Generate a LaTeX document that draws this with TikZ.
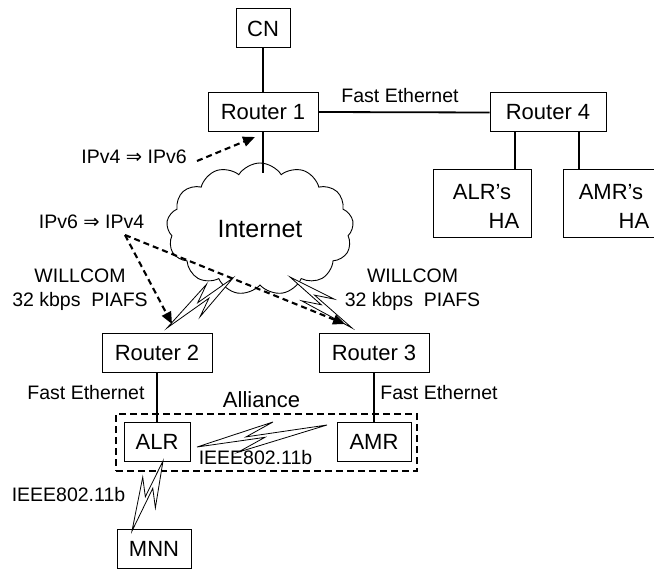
\documentclass[tikz,border=0pt]{standalone}
\usepackage{fontspec}
\setmainfont{Liberation Sans}
\newfontfamily\dejavu{DejaVu Sans}
\usetikzlibrary{shapes.symbols,arrows.meta,calc}
\newcommand\boxfont{\fontsize{22bp}{26bp}\selectfont}
\newcommand\lblfont{\fontsize{19.5bp}{24bp}\selectfont}
\newcommand\darr{{\dejavu ⇒}}
\newcommand\bolt[4]{%
  \filldraw[boltst] (#1) -- ($(#1)!0.6!(#2)!#3!90:(#2)$) -- ($(#1)!0.38!(#2)!#4!90:(#2)$) -- (#2)
    -- ($(#1)!0.3!(#2)!#3!-90:(#2)$) -- ($(#1)!0.52!(#2)!#4!-90:(#2)$) -- cycle;}
\tikzset{
  devbox/.style={draw, line width=1bp, inner sep=0pt, minimum height=39bp, font=\boxfont},
  lbl/.style={inner sep=0pt, font=\lblfont, align=center},
  wire/.style={line width=1.8bp},
  boltst/.style={draw, fill=white, line width=0.8bp, line join=miter},
  tunnel/.style={line width=2.1bp, dash pattern=on 6bp off 4bp, -{Triangle[length=12bp,width=10bp]}},
  groupbox/.style={draw, line width=2.6bp, dash pattern=on 7bp off 4bp, inner sep=0pt}
}
\begin{document}
\begin{tikzpicture}[x=1bp,y=-1bp]
\useasboundingbox (0,0) rectangle (654,569);
% devices
\node[devbox, minimum width=54bp] (cn) at (263,28.5) {CN};
\node[devbox, minimum width=110bp] (r1) at (263,112) {Router 1};
\node[devbox, minimum width=116bp] (r4) at (548,112.5) {Router 4};
\node[devbox, minimum width=98bp, minimum height=67bp] (alrha) at (482,203.5) {};
\node[devbox, minimum width=101bp, minimum height=67bp] (amrha) at (613.5,203.5) {};
\node[lbl, font=\boxfont] (alrhat) at (482,192) {ALR’s};
\node[lbl, font=\boxfont] (alrhab) at (504,221) {HA};
\node[lbl, font=\boxfont] (amrhat) at (611,192) {AMR’s};
\node[lbl, font=\boxfont] (amrhab) at (634,221) {HA};
\node[cloud, draw, fill=white, line width=0.9bp, cloud puffs=13, cloud puff arc=115, aspect=1.4,
      minimum width=187bp, minimum height=132bp, inner sep=0pt, font=\fontsize{25bp}{30bp}\selectfont] (cloud) at (260,229) {Internet};
\node[devbox, minimum width=110bp] (r2) at (157,352.5) {Router 2};
\node[devbox, minimum width=110bp] (r3) at (374,352.5) {Router 3};
\node[groupbox, minimum width=301bp, minimum height=57bp] (alliance) at (266.5,442.5) {};
\node[devbox, minimum width=66bp] (alr) at (157,441.5) {ALR};
\node[devbox, minimum width=74bp] (amr) at (374,441.5) {AMR};
\node[devbox, minimum width=74bp] (mnn) at (154,548.5) {MNN};
% labels
\node[lbl] (fe1) at (400,96) {Fast Ethernet};
\node[lbl] (ip46) at (134,157) {IPv4 \darr{} IPv6};
\node[lbl] (ip64) at (91.5,222) {IPv6 \darr{} IPv4};
\node[lbl] (wl) at (80,290) {WILLCOM\\32 kbps\ \ PIAFS};
\node[lbl] (wr) at (412.5,290) {WILLCOM\\32 kbps\ \ PIAFS};
\node[lbl] (fe2) at (86,393) {Fast Ethernet};
\node[lbl] (fe3) at (439,393) {Fast Ethernet};
\node[lbl, font=\boxfont] (alltxt) at (261.5,400) {Alliance};
\node[lbl] (wlan1) at (255.5,458) {IEEE802.11b};
\node[lbl] (wlan2) at (68.5,495) {IEEE802.11b};
% wired links
\coordinate (cltop) at (263,173);
\draw[wire] (cn.south) -- (r1.north);
\draw[wire] (r1.east) -- (r4.west);
\draw[wire] ($(r4.south)+(-33,0)$) -- ($(alrha.north)+(33,0)$);
\draw[wire] ($(r4.south)+(31,0)$) -- ($(amrha.north)+(-34.5,0)$);
\draw[wire] (r1.south) -- (cltop);
\draw[wire] (r2.south) -- (alr.north);
\draw[wire] (r3.south) -- (amr.north);
% wireless links
\coordinate (b1s) at (233,278); \coordinate (b1e) at (167,328);
\coordinate (b2s) at (290,277); \coordinate (b2e) at (352,328);
\coordinate (b3s) at (197,447); \coordinate (b3e) at (327,425);
\coordinate (b4s) at (163,461); \coordinate (b4e) at (132,531);
\bolt{b1s}{b1e}{11bp}{1.6bp}
\bolt{b2s}{b2e}{11bp}{1.6bp}
\bolt{b3s}{b3e}{12bp}{1.8bp}
\bolt{b4s}{b4e}{12bp}{1.7bp}
% tunnels
\coordinate (t1s) at (197,161); \coordinate (t1e) at (255,137);
\coordinate (t2s) at (125,235);
\coordinate (t2a) at (172,324); \coordinate (t2b) at (345,324);
\draw[tunnel] (t1s) -- (t1e);
\draw[tunnel] (t2s) -- (t2a);
\draw[tunnel] (t2s) -- (t2b);
\end{tikzpicture}
\end{document}
